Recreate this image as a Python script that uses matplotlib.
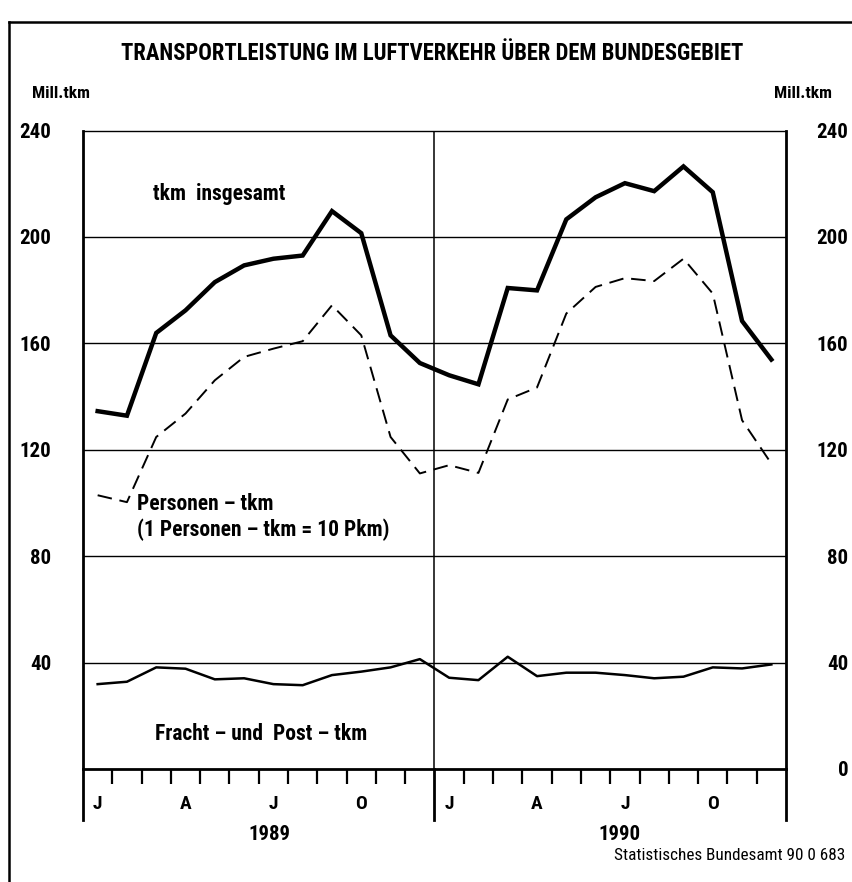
import numpy as np
import matplotlib.pyplot as plt
from matplotlib.lines import Line2D
from matplotlib import font_manager

# monthly values, Jan 1989 .. Dec 1990 (Mill. tkm)
months = np.arange(24)
tkm_total = [134.5, 132.8, 163.9, 172.4, 183.0, 189.3, 191.8, 193.0, 209.7, 201.4, 163.0, 152.6,
             148.0, 144.6, 180.8, 179.9, 206.6, 214.9, 220.2, 217.2, 226.5, 216.8, 168.4, 153.9]
personen_tkm = [102.9, 100.3, 124.8, 133.6, 146.1, 154.9, 158.0, 160.8, 174.3, 163.0, 124.8, 111.1,
                114.2, 111.3, 138.9, 143.4, 171.2, 181.2, 184.5, 183.4, 191.8, 178.7, 131.1, 114.8]
fracht_tkm = [31.9, 32.8, 38.2, 37.7, 33.7, 34.1, 31.9, 31.5, 35.3, 36.6, 38.2, 41.3,
              34.3, 33.4, 42.2, 34.9, 36.2, 36.2, 35.3, 34.1, 34.7, 38.2, 37.8, 39.3]
month_labels = ['J', 'A', 'J', 'O']
month_label_pos = [0, 3, 6, 9]
years = ['1989', '1990']
left_ticks = [40, 80, 120, 160, 200, 240]
right_ticks = [0, 40, 80, 120, 160, 200, 240]

names = {f.name for f in font_manager.fontManager.ttflist}
fam = [n for n in ['Liberation Sans Narrow', 'DejaVu Sans Condensed', 'Roboto Condensed',
                   'Open Sans Condensed', 'Arial Narrow'] if n in names]
plt.rcParams['font.family'] = fam + ['DejaVu Sans']
plt.rcParams['font.weight'] = 'bold'

fig = plt.figure(figsize=(8.53, 8.82), dpi=100)
ax = fig.add_axes([83/853, 1 - 769/882, 703/853, 638.5/882])

x = months + 0.5
ax.plot(x, tkm_total, color='black', lw=3.2, solid_joinstyle='miter', zorder=4)
ax.plot(x, personen_tkm, color='black', lw=1.4, dashes=(7.5, 4), zorder=4)
ax.plot(x, fracht_tkm, color='black', lw=1.8, zorder=4)

ax.set_xlim(0, 24)
ax.set_ylim(0, 240)

# grid
for v in left_ticks[:-1]:
    ax.axhline(v, color='black', lw=1.0, zorder=1)
ax.axvline(12, color='black', lw=1.1, zorder=1)

for s in ['left', 'right', 'bottom']:
    ax.spines[s].set_linewidth(2.0)
ax.spines['top'].set_linewidth(1.0)

# extensions below the axis separating the years
for xv in [0, 12, 24]:
    ax.axvline(xv, ymin=-0.08, ymax=0, color='black', lw=2.0, clip_on=False)

# month ticks at boundaries
bounds = [b for b in range(1, 24) if b != 12]
ax.set_xticks(bounds)
ax.set_xticklabels([])
ax.tick_params(axis='x', which='major', length=11, width=1.6, direction='out')
lab_pos = [p + 0.5 for p in month_label_pos] + [p + 12.5 for p in month_label_pos]
ax.set_xticks(lab_pos, minor=True)
ax.set_xticklabels(month_labels * 2, minor=True, fontsize=14)
ax.tick_params(axis='x', which='minor', length=0, pad=19)

ax.set_yticks(left_ticks)
ax.set_yticklabels([str(v) for v in left_ticks], fontsize=15)
ax.tick_params(axis='y', length=0, pad=23)

ax2 = ax.twinx()
ax2.set_ylim(0, 240)
ax2.set_yticks(right_ticks)
ax2.set_yticklabels([str(v) for v in right_ticks], fontsize=15)
ax2.tick_params(axis='y', length=0, pad=45)
for lab in ax2.get_yticklabels():
    lab.set_horizontalalignment('right')
for s in ax2.spines.values():
    s.set_visible(False)

# year labels
ax.text(6.35, -24.6, years[0], ha='center', va='center', fontsize=15, clip_on=False)
ax.text(18.3, -24.6, years[1], ha='center', va='center', fontsize=15, clip_on=False)

# series annotations
ax.text(2.4, 216, 'tkm  insgesamt', fontsize=15.5, ha='left', va='center')
ax.text(1.85, 99.5, 'Personen – tkm', fontsize=15.5, ha='left', va='center')
ax.text(1.85, 90, '(1 Personen – tkm = 10 Pkm)', fontsize=15.5, ha='left', va='center')
ax.text(2.45, 13, 'Fracht – und  Post – tkm', fontsize=15.5, ha='left', va='center')

# titles and unit labels
fig.text(432/853, 1 - 53/882, 'TRANSPORTLEISTUNG IM LUFTVERKEHR ÜBER DEM BUNDESGEBIET',
         ha='center', va='center', fontsize=16.3)
fig.text(32/853, 1 - 93/882, 'Mill.tkm', ha='left', va='center', fontsize=12.5)
fig.text(832/853, 1 - 93/882, 'Mill.tkm', ha='right', va='center', fontsize=12.5)
fig.text(845/853, 1 - 855/882, 'Statistisches Bundesamt 90 0 683', ha='right', va='center',
         fontsize=12.3, fontweight='normal')

# outer frame (left and top edges)
fig.add_artist(Line2D([9/853, 9/853], [0, 1 - 22/882], color='black', lw=1.8))
fig.add_artist(Line2D([9/853, 1], [1 - 22/882, 1 - 22/882], color='black', lw=1.8))

fig.savefig('out.png', dpi=100)
